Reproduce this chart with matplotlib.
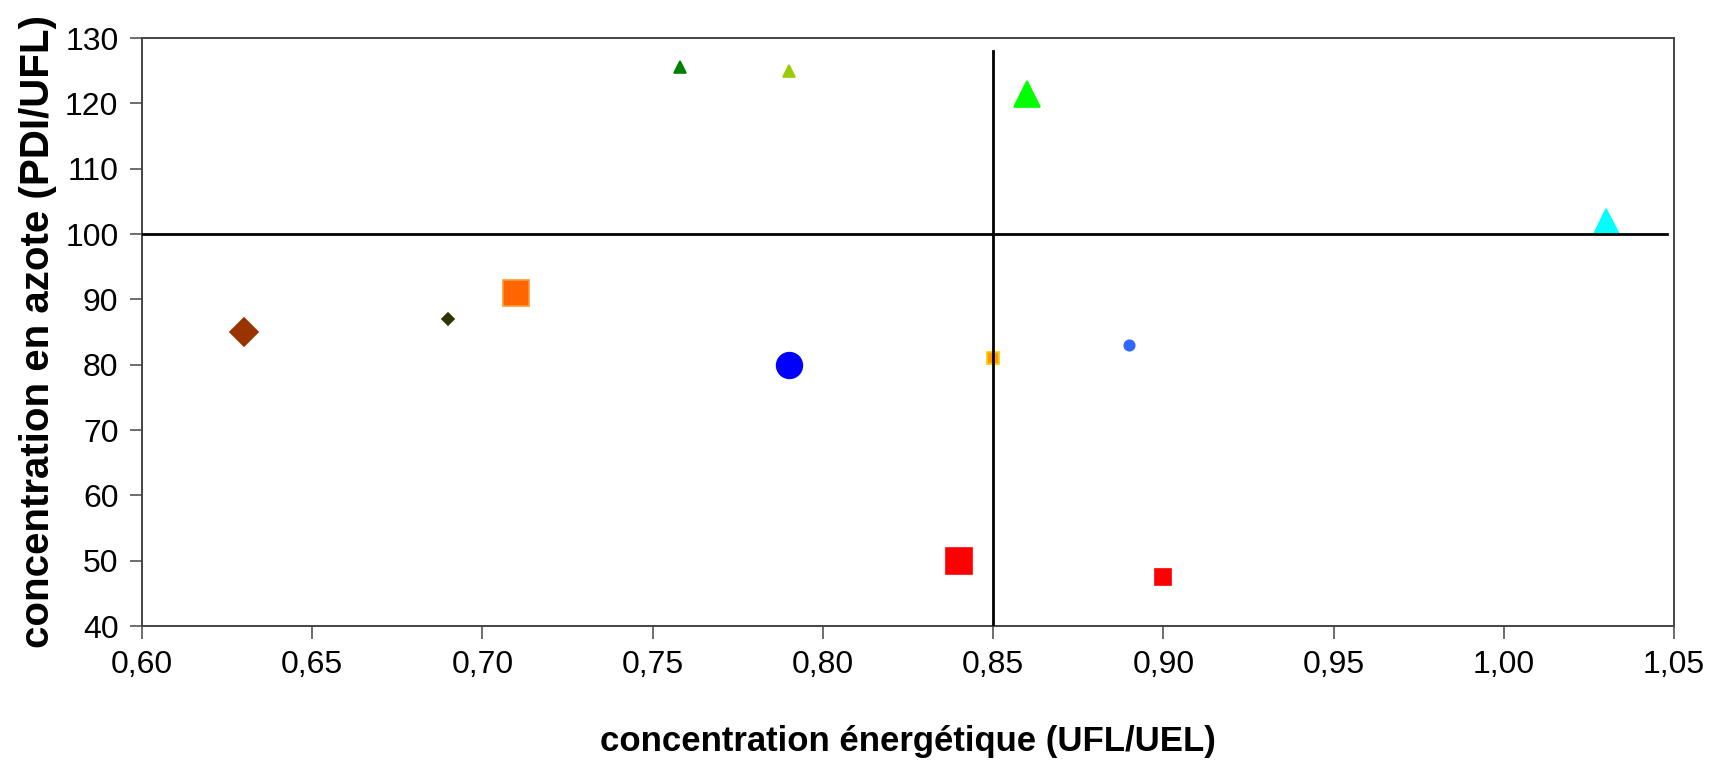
import matplotlib
matplotlib.use('Agg')
import matplotlib.pyplot as plt
from matplotlib.ticker import FuncFormatter, MultipleLocator

plt.rcParams['font.family'] = ['Liberation Sans', 'DejaVu Sans']

# Feeds: energy (UFL/UEL) vs nitrogen (PDI/UFL)
energie = [0.63, 0.69, 0.71, 0.79, 0.758, 0.79, 0.86, 1.03, 0.85, 0.89, 0.84, 0.90]
azote = [85, 87, 91, 80, 125.5, 125, 121.5, 102, 81, 83, 50, 47.5]
marqueurs = ['D', 'D', 's', 'o', '^', '^', '^', '^', 's', 'o', 's', 's']
tailles = [14, 6.5, 18.5, 18.5, 9, 9, 19, 18, 8, 7.5, 18.5, 11.5]
couleurs = ['#993300', '#333300', '#FF6600', '#0000FF', '#008000', '#99CC00',
            '#00FF00', '#00FFFF', '#FF9900', '#3366FF', '#FF0000', '#FF0000']
bordures = ['#993300', '#333300', '#FF9933', '#0000FF', '#008000', '#99CC00',
            '#00FF00', '#00FFFF', '#FFCC00', '#3366FF', '#FF0000', '#FF0000']

# reference lines
ref_x = 0.85
ref_y = 100

fig = plt.figure(figsize=(17.15, 7.6), dpi=100)
ax = fig.add_axes([142 / 1715, 1 - 626 / 760, (1674 - 142) / 1715, (626 - 38) / 760])

for x, y, m, s, c, b in zip(energie, azote, marqueurs, tailles, couleurs, bordures):
    ax.plot(x, y, marker=m, markersize=s, color=c, markeredgecolor=b,
            markeredgewidth=1.2, linestyle='none', zorder=2)

ax.plot([ref_x, ref_x], [40, 128], color='black', lw=2, zorder=3)
ax.plot([0.60, 1.048], [ref_y, ref_y], color='black', lw=2, zorder=3)

ax.set_xlim(0.60, 1.05)
ax.set_ylim(40, 130)
ax.xaxis.set_major_locator(MultipleLocator(0.05))
ax.yaxis.set_major_locator(MultipleLocator(10))
ax.xaxis.set_major_formatter(FuncFormatter(lambda v, p: f"{v:.2f}".replace('.', ',')))
ax.yaxis.set_major_formatter(FuncFormatter(lambda v, p: f"{v:.0f}"))

for sp in ax.spines.values():
    sp.set_color('#444444')
    sp.set_linewidth(1.4)

ax.tick_params(direction='out', length=9, width=1.2, color='#555555',
               labelsize=23, pad=8)

ax.set_xlabel('concentration énergétique (UFL/UEL)', fontsize=25,
              fontweight='bold', labelpad=33)
ax.set_ylabel('concentration en azote (PDI/UFL)', fontsize=29,
              fontweight='bold', labelpad=6)

fig.savefig('out.png', dpi=100)
